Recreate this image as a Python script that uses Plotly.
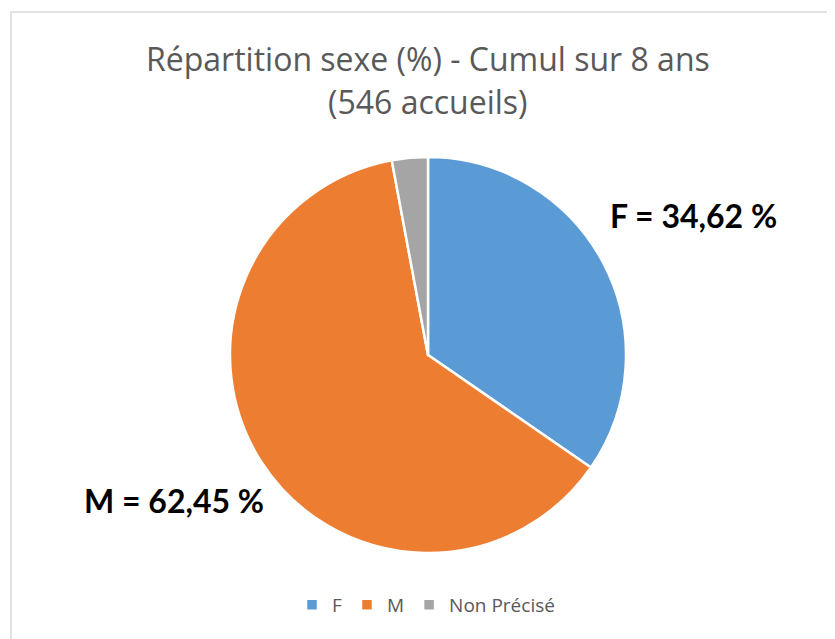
import plotly.graph_objects as go

categories = ["F", "M", "Non Précisé"]
values = [34.62, 62.45, 2.93]
colors = ["#5B9BD5", "#ED7D31", "#A5A5A5"]
label_texts = ["F = 34,62 %", "M = 62,45 %"]

W, H = 835, 639
OFF = 8  # page body offset

def px(x):
    return (x - OFF) / W

def py(y):
    return 1 - (y - OFF) / H

fig = go.Figure()
fig.add_trace(go.Pie(
    labels=categories,
    values=values,
    sort=False,
    direction="clockwise",
    rotation=0,
    marker=dict(colors=colors, line=dict(color="white", width=2.5)),
    textinfo="none",
    hoverinfo="label+percent",
    domain=dict(x=[px(230), px(626)], y=[py(553), py(157)]),
))

title_font = "Open Sans, sans-serif"
label_font = "Lato, Open Sans, sans-serif"

fig.add_annotation(x=px(428), y=py(58), xref="paper", yref="paper",
                   text="Répartition sexe (%) - Cumul sur 8 ans", showarrow=False,
                   font=dict(size=32, color="#595959", family=title_font),
                   xanchor="center", yanchor="middle")
fig.add_annotation(x=px(428), y=py(101), xref="paper", yref="paper",
                   text="(546 accueils)", showarrow=False,
                   font=dict(size=32, color="#595959", family=title_font),
                   xanchor="center", yanchor="middle")
fig.add_annotation(x=px(693), y=py(215), xref="paper", yref="paper",
                   text="<b>" + label_texts[0] + "</b>", showarrow=False,
                   font=dict(size=32, color="#000000", family=label_font),
                   xanchor="center", yanchor="middle")
fig.add_annotation(x=px(174), y=py(500), xref="paper", yref="paper",
                   text="<b>" + label_texts[1] + "</b>", showarrow=False,
                   font=dict(size=32, color="#000000", family=label_font),
                   xanchor="center", yanchor="middle")

# chart area border
fig.add_shape(type="rect", xref="paper", yref="paper",
              x0=px(11), x1=px(W + 20), y0=py(H + 20), y1=py(12),
              line=dict(color="#D9D9D9", width=1.5), fillcolor="rgba(0,0,0,0)")

fig.update_layout(
    width=W, height=H,
    margin=dict(l=0, r=0, t=0, b=0),
    paper_bgcolor="white",
    plot_bgcolor="white",
    showlegend=True,
    legend=dict(orientation="h", x=px(426), y=py(605), xanchor="center", yanchor="middle",
                font=dict(size=19, color="#595959", family=title_font),
                itemwidth=30, traceorder="normal"),
)

fig.write_html("out.html")
